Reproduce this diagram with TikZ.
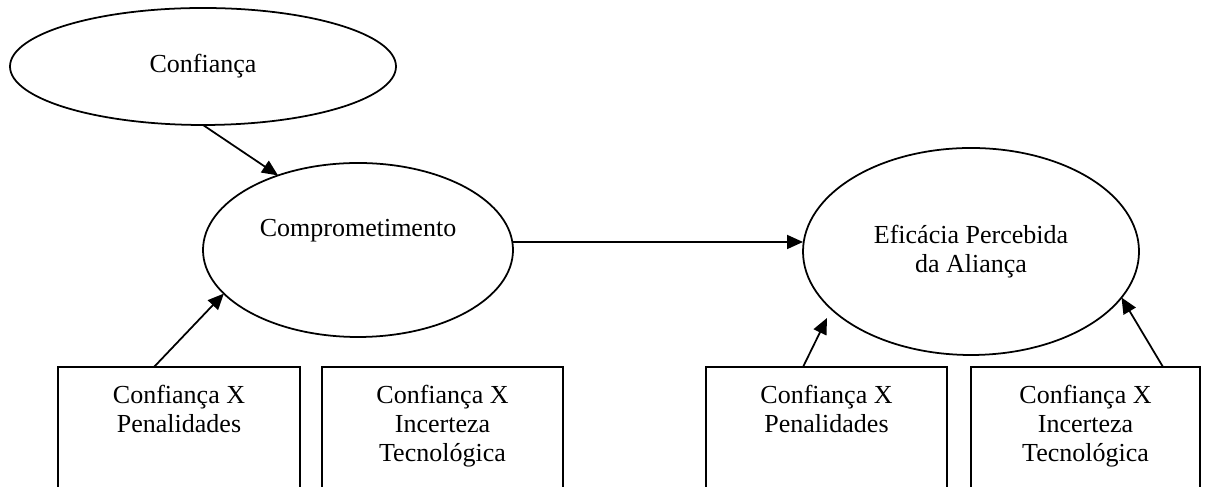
\documentclass[tikz,border=0pt]{standalone}
\usepackage{fontspec}
\setmainfont{Liberation Serif}
\usetikzlibrary{shapes.geometric,arrows.meta}

\begin{document}
\begin{tikzpicture}[
    every node/.style={font=\fontsize{14.8}{16.5}\selectfont},
    construct/.style={ellipse,draw,line width=1pt,inner sep=0pt,outer sep=0pt,align=center},
    interaction/.style={rectangle,draw,line width=1pt,anchor=north,minimum height=2.6cm,inner sep=0pt,outer sep=0pt},
    boxtext/.style={anchor=north,align=center,inner sep=0pt,yshift=-0.35cm}]
  \useasboundingbox (0,0) rectangle (24.14,9.74);
  \clip (0,0) rectangle (24.14,9.74);
  \node[construct,minimum width=7.72cm,minimum height=2.34cm] (conf) at (4.06,8.41) {Confiança};
  \node[construct,minimum width=6.2cm,minimum height=3.48cm] (comp) at (7.16,4.74) {};
  \node (comptext) at (7.16,5.12) {Comprometimento};
  \node[construct,minimum width=6.72cm,minimum height=4.14cm] (efic) at (19.42,4.71) {Eficácia Percebida\\da Aliança};
  \node[interaction,minimum width=4.84cm] (pen1) at (3.58,2.4) {};
  \node[interaction,minimum width=4.82cm] (inc1) at (8.85,2.4) {};
  \node[interaction,minimum width=4.82cm] (pen2) at (16.53,2.4) {};
  \node[interaction,minimum width=4.58cm] (inc2) at (21.71,2.4) {};
  \node[boxtext] (pen1text) at (pen1.north) {Confiança X\\Penalidades};
  \node[boxtext] (inc1text) at (inc1.north) {Confiança X\\Incerteza\\Tecnológica};
  \node[boxtext] (pen2text) at (pen2.north) {Confiança X\\Penalidades};
  \node[boxtext] (inc2text) at (inc2.north) {Confiança X\\Incerteza\\Tecnológica};
  \coordinate (tip3) at (16.54,3.38);
  \begin{scope}[line width=1pt,-{Triangle[length=0.32cm,width=0.28cm]}]
    \draw (conf.south) to (comp.137);
    \draw ([yshift=0.16cm]comp.east) to ([yshift=0.16cm]comp.east -| efic.west);
    \draw ([xshift=-0.5cm]pen1.north) to (comp.198);
    \draw ([xshift=-0.47cm]pen2.north) to (tip3);
    \draw ([xshift=1.55cm]inc2.north) to (efic.343);
  \end{scope}
\end{tikzpicture}
\end{document}
